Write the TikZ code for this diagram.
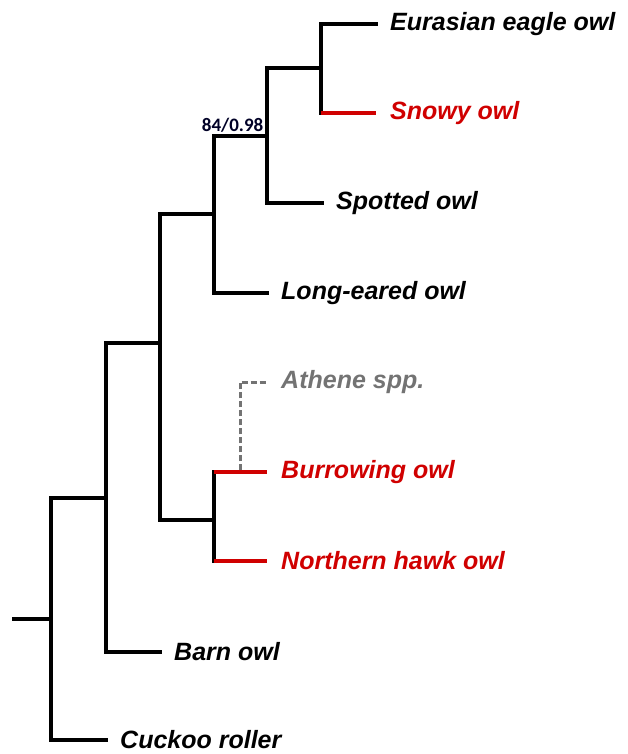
\documentclass[tikz,border=0pt]{standalone}
\usepackage{fontspec}
\setmainfont{Liberation Sans}
\newfontfamily\bsfont{Carlito}
\definecolor{treered}{HTML}{D00000}
\definecolor{treegray}{HTML}{737373}
\begin{document}
\begin{tikzpicture}[x=1pt,y=1pt,
  branch/.style={line width=3.4pt,black,line cap=rect},
  redbranch/.style={line width=3.4pt,treered},
  leaf/.style={anchor=west,inner xsep=14pt,inner ysep=0pt,font=\fontsize{25}{29}\selectfont\bfseries\itshape},
  redleaf/.style={leaf,text=treered},
  grayleaf/.style={leaf,text=treegray},
  dashbranch/.style={line width=3pt,treegray,dash pattern=on 6pt off 3pt},
  support/.style={font=\bsfont\bfseries\fontsize{19}{22}\selectfont,inner sep=1pt,text=black!85!blue}]
\useasboundingbox (0,0) rectangle (628,-754);
% internal nodes
\coordinate (r0) at (14,-619);
\coordinate (n0) at (51,-619);
\coordinate (n1) at (106,-498);
\coordinate (n2) at (160,-343);
\coordinate (n3) at (214,-214);
\coordinate (n4) at (267,-136);
\coordinate (n5) at (321,-68);
\coordinate (n7) at (214,-520);
\coordinate (ab) at (240,-472);
% leaves
\node[leaf] (eagle) at (376,-24) {Eurasian eagle owl};
\node[redleaf] (snowy) at (376,-113) {Snowy owl};
\node[leaf] (spotted) at (322,-203) {Spotted owl};
\node[leaf] (longeared) at (267,-293) {Long-eared owl};
\node[grayleaf] (athene) at (267,-382) {Athene spp.};
\node[redleaf] (burrowing) at (267,-472) {Burrowing owl};
\node[redleaf] (hawk) at (267,-561) {Northern hawk owl};
\node[leaf] (barn) at (160,-652) {Barn owl};
\node[leaf] (cuckoo) at (106,-740) {Cuckoo roller};
% branches
\draw[branch] (r0) -- (n0);
\draw[branch] (n0) |- (n1);
\draw[branch] (n0) |- (cuckoo.west);
\draw[branch] (n1) |- (n2);
\draw[branch] (n1) |- (barn.west);
\draw[branch] (n2) |- (n3);
\draw[branch] (n2) |- (n7);
\draw[branch] (n3) |- (n4);
\draw[branch] (n3) |- (longeared.west);
\draw[branch] (n4) |- (n5);
\draw[branch] (n4) |- (spotted.west);
\draw[branch] (n5) |- (eagle.west);
\draw[branch] (n5 |- snowy.west) -- (n5 |- eagle.west);
\draw[redbranch] (n5 |- snowy.west) -- (snowy.west);
\draw[branch] (n7 |- burrowing.west) -- (n7 |- hawk.west);
\draw[redbranch] (n7 |- burrowing.west) -- (burrowing.west);
\draw[redbranch] (n7 |- hawk.west) -- (hawk.west);
\draw[dashbranch] ([yshift=1.7pt]ab) |- (athene.west);
% support value
\node[support,anchor=south east] (bs) at ([xshift=-2.5pt,yshift=2.5pt]n4) {84/0.98};
\end{tikzpicture}
\end{document}
